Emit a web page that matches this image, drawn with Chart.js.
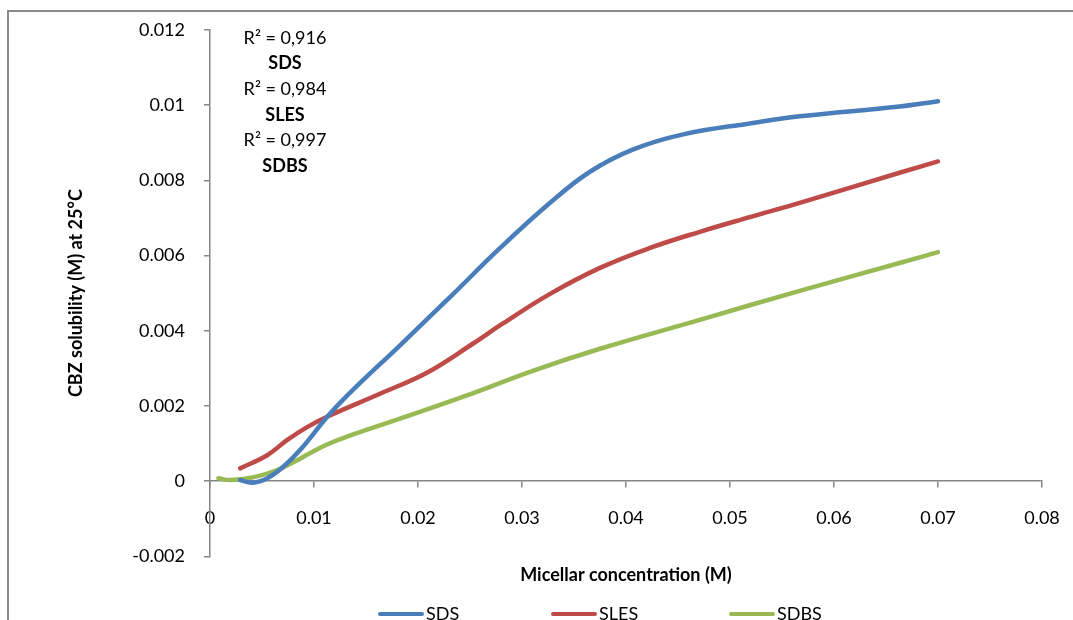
<!DOCTYPE html>
<html>
<head>
<meta charset="utf-8">
<script src="https://cdn.jsdelivr.net/npm/chart.js@4/dist/chart.umd.min.js"></script>
<style>
  html, body { margin: 0; padding: 0; background: #fff; }
  canvas { display: block; }
</style>
</head>
<body>
<canvas id="solubilidadChart" width="1073" height="620"></canvas>
<script>
// curvas: concentración micelar (M) -> solubilidad CBZ (M)
const sdsX = [0.0029, 0.0041, 0.0055, 0.007, 0.0087, 0.0113, 0.0135, 0.0183, 0.0231, 0.0279, 0.0327, 0.0365, 0.0407, 0.0455, 0.0519, 0.0567, 0.0663, 0.07];
const sdsY = [0.00003, -0.00004, 0.00008, 0.00037, 0.00084, 0.00172, 0.00236, 0.00362, 0.0049, 0.0062, 0.0074, 0.00822, 0.00882, 0.00922, 0.00951, 0.0097, 0.00996, 0.0101];

const slesX = [0.0029, 0.0055, 0.0074, 0.0093, 0.0113, 0.0164, 0.0209, 0.0253, 0.0282, 0.0327, 0.0375, 0.0423, 0.0471, 0.0519, 0.0567, 0.0663, 0.07];
const slesY = [0.00034, 0.00069, 0.00109, 0.00143, 0.00172, 0.00233, 0.00289, 0.00366, 0.0042, 0.00498, 0.00567, 0.0062, 0.00663, 0.00702, 0.0074, 0.0082, 0.0085];

const sdbsX = [0.0008, 0.0019, 0.0041, 0.0064, 0.008, 0.0096, 0.0113, 0.0135, 0.0192, 0.0247, 0.0311, 0.0375, 0.0471, 0.0567, 0.0663, 0.07];
const sdbsY = [0.00008, 0.00003, 0.0001, 0.00029, 0.0005, 0.00074, 0.00098, 0.00122, 0.00175, 0.00228, 0.00294, 0.00352, 0.00429, 0.00506, 0.0058, 0.00609];

const nombresSeries = ["SDS", "SLES", "SDBS"];
const etiquetasR2 = ["R² = 0,916", "R² = 0,984", "R² = 0,997"];

// ticks de los ejes
const xTicks = [0, 0.01, 0.02, 0.03, 0.04, 0.05, 0.06, 0.07, 0.08];
const xTickLabels = ["0", "0.01", "0.02", "0.03", "0.04", "0.05", "0.06", "0.07", "0.08"];
const yTicks = [-0.002, 0, 0.002, 0.004, 0.006, 0.008, 0.01, 0.012];
const yTickLabels = ["-0.002", "0", "0.002", "0.004", "0.006", "0.008", "0.01", "0.012"];

const colores = ["#4a7ebb", "#be4b48", "#98b954"];
const gris = "#868686";

function puntos(xs, ys) {
    return xs.map((x, i) => ({ x: x, y: ys[i] }));
}

// marco exterior, textos R² y leyenda inferior
const extras = {
    id: "extras",
    beforeDraw(chart) {
        const ctx = chart.ctx;
        ctx.save();
        ctx.strokeStyle = "#8a8a8a";
        ctx.lineWidth = 2;
        ctx.beginPath();
        ctx.moveTo(8, 620);
        ctx.lineTo(8, 11);
        ctx.lineTo(1073, 11);
        ctx.stroke();
        ctx.restore();
    },
    afterDraw(chart) {
        const ctx = chart.ctx;
        ctx.save();
        ctx.fillStyle = "#000";
        ctx.textAlign = "center";
        ctx.textBaseline = "middle";
        let y = 38;
        nombresSeries.forEach((nombre, i) => {
            ctx.font = "18px Lato";
            ctx.fillText(etiquetasR2[i], 285, y);
            y += 25.6;
            ctx.font = "bold 18px Lato";
            ctx.fillText(nombre, 285, y);
            y += 25.6;
        });

        // leyenda
        const inicios = [380, 553, 731];
        const yLeyenda = 614;
        chart.data.datasets.forEach((ds, i) => {
            ctx.strokeStyle = ds.borderColor;
            ctx.lineWidth = 4;
            ctx.lineCap = "round";
            ctx.beginPath();
            ctx.moveTo(inicios[i], yLeyenda);
            ctx.lineTo(inicios[i] + 42, yLeyenda);
            ctx.stroke();
            ctx.fillStyle = "#000";
            ctx.font = "18px Lato";
            ctx.textAlign = "left";
            ctx.fillText(ds.label, inicios[i] + 46, yLeyenda);
        });
        ctx.restore();
    }
};

Chart.defaults.font.family = "Lato";
Chart.defaults.color = "#000";

const ctx = document.getElementById("solubilidadChart").getContext("2d");

new Chart(ctx, {
    type: "scatter",
    data: {
        datasets: [
            { label: nombresSeries[0], data: puntos(sdsX, sdsY), borderColor: colores[0] },
            { label: nombresSeries[1], data: puntos(slesX, slesY), borderColor: colores[1] },
            { label: nombresSeries[2], data: puntos(sdbsX, sdbsY), borderColor: colores[2] }
        ].map(ds => Object.assign(ds, {
            showLine: true,
            pointRadius: 0,
            borderWidth: 4.5,
            borderCapStyle: "round",
            tension: 0.4,
            backgroundColor: ds.borderColor
        }))
    },
    options: {
        responsive: false,
        animation: false,
        layout: { padding: { top: 28, right: 31, bottom: 34, left: 0 } },
        plugins: {
            legend: { display: false },
            tooltip: { enabled: false },
            title: {
                display: true,
                position: "bottom",
                fullSize: false,
                text: "Micellar concentration (M)",
                color: "#000",
                font: { family: "Lato", size: 18, weight: "bold" },
                padding: { top: 8, bottom: 0 }
            }
        },
        scales: {
            x: {
                type: "linear",
                position: { y: 0 },
                min: 0,
                max: 0.08,
                afterBuildTicks: s => { s.ticks = xTicks.map(v => ({ value: v })); },
                afterFit: s => { s.paddingLeft = 0; s.paddingRight = 0; },
                grid: { drawOnChartArea: false, drawTicks: true, tickLength: 6, color: gris, lineWidth: 1.5 },
                border: { color: gris, width: 1.5 },
                ticks: {
                    callback: (v, i) => xTickLabels[i],
                    font: { size: 18 },
                    padding: 20,
                    maxRotation: 0,
                    autoSkip: false
                }
            },
            y: {
                type: "linear",
                min: -0.002,
                max: 0.012,
                afterBuildTicks: s => { s.ticks = yTicks.map(v => ({ value: v })); },
                afterFit: s => { s.width = 210; },
                grid: { drawOnChartArea: false, drawTicks: true, tickLength: 6, color: gris, lineWidth: 1.5 },
                border: { color: gris, width: 1.5 },
                ticks: {
                    callback: (v, i) => yTickLabels[i],
                    font: { size: 18 },
                    padding: 19
                },
                title: {
                    display: true,
                    text: "CBZ solubility (M) at 25°C",
                    color: "#000",
                    font: { family: "Lato", size: 18, weight: "bold" },
                    padding: { top: 65 }
                }
            }
        }
    },
    plugins: [extras]
});
</script>
</body>
</html>
